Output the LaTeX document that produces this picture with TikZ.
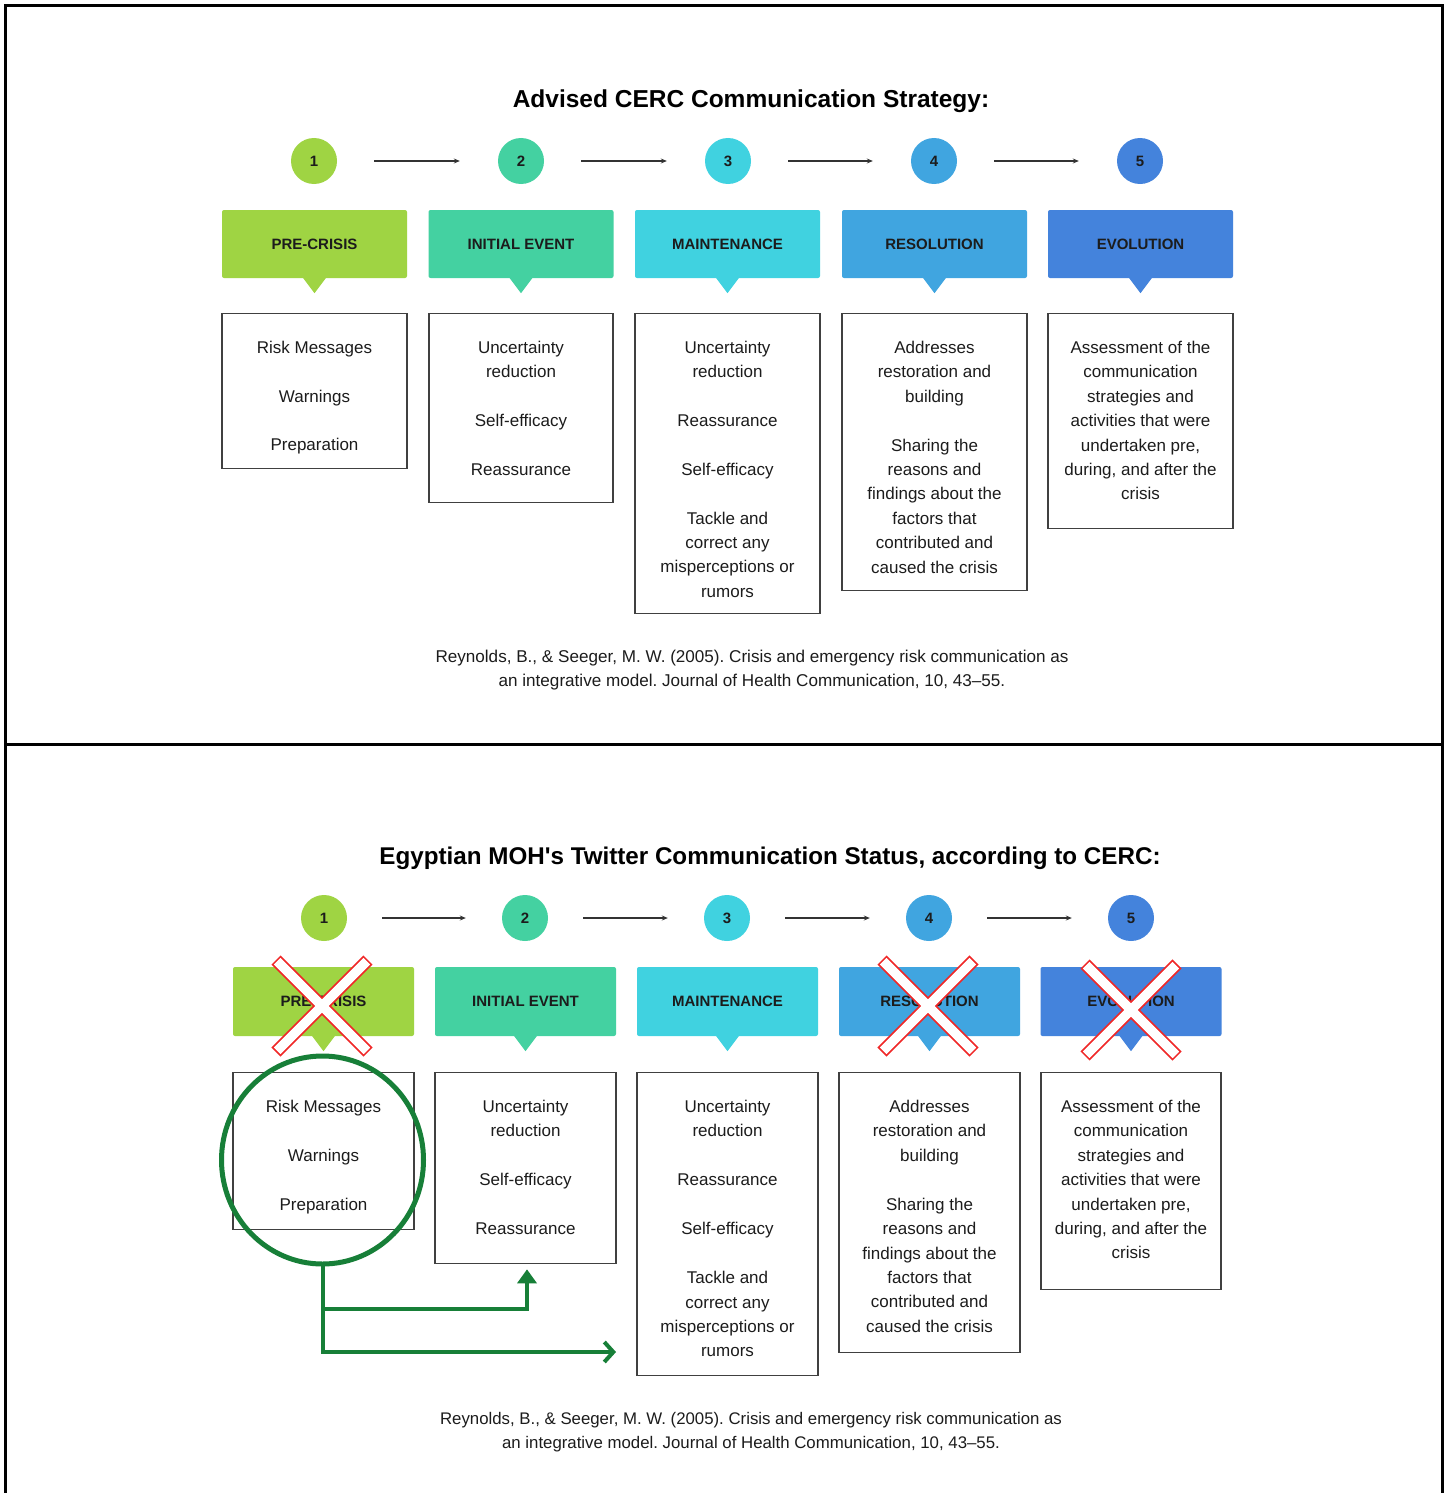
\documentclass[tikz,border=0pt]{standalone}
\usepackage{fontspec}
\setmainfont{Liberation Sans}
\usetikzlibrary{arrows.meta,calc,shapes.geometric}
\definecolor{c1}{HTML}{9FD443}
\definecolor{c2}{HTML}{44D1A1}
\definecolor{c3}{HTML}{40D2E0}
\definecolor{c4}{HTML}{40A5E0}
\definecolor{c5}{HTML}{4483DC}
\definecolor{gdark}{HTML}{177F38}
\definecolor{xred}{HTML}{F02828}
\definecolor{ink}{HTML}{1C1C1C}
\frenchspacing
\begin{document}
\begin{tikzpicture}[x=1pt,y=-1pt,
  num/.style={circle, minimum size=46, inner sep=0, font=\bfseries\fontsize{15}{17}\selectfont, text=ink},
  hdr/.style={rectangle, rounded corners=2, minimum height=68, inner sep=0, font=\bfseries\fontsize{15}{18}\selectfont, text=ink},
  cbox/.style={draw=black!75, line width=1.3, inner sep=0},
  ctext/.style={align=center, inner sep=0, anchor=north, text=ink, font=\fontsize{17}{24.4}\selectfont},
  ttl/.style={font=\bfseries\fontsize{24.5}{28}\selectfont, text=black},
  cite/.style={align=center, inner sep=0, text=ink, font=\fontsize{17.1}{24.2}\selectfont},
  flow/.style={line width=1.2, draw=black!80, -{Stealth[length=6,width=5]}},
  garrow/.style={line width=4, draw=gdark},
]
\useasboundingbox (0,0) rectangle (1447,1493);
\fill[white] (0,0) rectangle (1447,1493);
% frame
\draw[line width=3] (5,1493) -- (5,6) -- (1442,6) -- (1442,1493);
\draw[line width=3] (5,744) -- (1442,744);

% ================= TOP =================
\node[ttl] (t1) at (751,101) {Advised CERC Communication Strategy:};
\foreach \i/\cx/\hx/\col/\lab in {1/314/314.5/c1/PRE-CRISIS, 2/521/521/c2/INITIAL EVENT, 3/728/727.5/c3/MAINTENANCE, 4/934/934.5/c4/RESOLUTION, 5/1140/1140.5/c5/EVOLUTION}{
  \node[num, fill=\col] (tn\i) at (\cx,161) {\i};
  \node[hdr, fill=\col, minimum width=185] (th\i) at (\hx,244) {\lab};
  \fill[\col] ($(th\i.south)+(-12,-1)$) -- ($(th\i.south)+(0,15)$) -- ($(th\i.south)+(12,-1)$) -- cycle;
}
\foreach \a/\b in {1/2,2/3,3/4,4/5}
  \draw[flow, shorten <=37, shorten >=38] (tn\a) -- (tn\b);

\node[cbox, minimum width=185, minimum height=155, anchor=north] (tb1) at (314.5,313) {};
\node[cbox, minimum width=184, minimum height=189, anchor=north] (tb2) at (521,313) {};
\node[cbox, minimum width=185, minimum height=300, anchor=north] (tb3) at (727.5,313) {};
\node[cbox, minimum width=185, minimum height=277, anchor=north] (tb4) at (934.5,313) {};
\node[cbox, minimum width=185, minimum height=215, anchor=north] (tb5) at (1140.5,313) {};

\node[ctext] (tt1) at ($(tb1.north)+(0,28)$) {Risk Messages\\[24.3pt]Warnings\\[24.3pt]Preparation};
\node[ctext] (tt2) at ($(tb2.north)+(0,28)$) {Uncertainty\\reduction\\[24.3pt]Self-efficacy\\[24.3pt]Reassurance};
\node[ctext] (tt3) at ($(tb3.north)+(0,28)$) {Uncertainty\\reduction\\[24.3pt]Reassurance\\[24.3pt]Self-efficacy\\[24.3pt]Tackle and\\correct any\\misperceptions or\\rumors};
\node[ctext] (tt4) at ($(tb4.north)+(0,28)$) {Addresses\\restoration and\\building\\[24.3pt]Sharing the\\reasons and\\findings about the\\factors that\\contributed and\\caused the crisis};
\node[ctext] (tt5) at ($(tb5.north)+(0,28)$) {Assessment of the\\communication\\strategies and\\activities that were\\undertaken pre,\\during, and after the\\crisis};

\node[cite] (ct1) at (752,670) {Reynolds, B., \& Seeger, M. W. (2005). Crisis and emergency risk communication as\\an integrative model. Journal of Health Communication, 10, 43–55.};

% ================= BOTTOM =================
\node[ttl, font=\bfseries\fontsize{24.2}{28}\selectfont] (t2) at (770,858) {Egyptian MOH\textquotesingle s Twitter Communication Status, according to CERC:};
\foreach \i/\cx/\hx/\col/\lab in {1/324/323.5/c1/PRE-CRISIS, 2/525/525.5/c2/INITIAL EVENT, 3/727/727.5/c3/MAINTENANCE, 4/929/929.5/c4/RESOLUTION, 5/1131/1131/c5/EVOLUTION}{
  \node[num, fill=\col] (bn\i) at (\cx,918) {\i};
  \node[hdr, fill=\col, minimum width=181, minimum height=69] (bh\i) at (\hx,1001.5) {\lab};
  \fill[\col] ($(bh\i.south)+(-12,-1)$) -- ($(bh\i.south)+(0,15)$) -- ($(bh\i.south)+(12,-1)$) -- cycle;
}
\foreach \a/\b in {1/2,2/3,3/4,4/5}
  \draw[flow, shorten <=35, shorten >=36] (bn\a) -- (bn\b);

\node[cbox, minimum width=181, minimum height=157, anchor=north] (bb1) at (323.5,1072) {};
\node[cbox, minimum width=181, minimum height=191, anchor=north] (bb2) at (525.5,1072) {};
\node[cbox, minimum width=181, minimum height=303, anchor=north] (bb3) at (727.5,1072) {};
\node[cbox, minimum width=181, minimum height=280, anchor=north] (bb4) at (929.5,1072) {};
\node[cbox, minimum width=180, minimum height=217, anchor=north] (bb5) at (1131,1072) {};

\node[ctext] (bt1) at ($(bb1.north)+(0,28)$) {Risk Messages\\[24.5pt]Warnings\\[24.5pt]Preparation};
\node[ctext] (bt2) at ($(bb2.north)+(0,28)$) {Uncertainty\\reduction\\[24.5pt]Self-efficacy\\[24.5pt]Reassurance};
\node[ctext] (bt3) at ($(bb3.north)+(0,28)$) {Uncertainty\\reduction\\[24.5pt]Reassurance\\[24.5pt]Self-efficacy\\[24.5pt]Tackle and\\correct any\\misperceptions or\\rumors};
\node[ctext] (bt4) at ($(bb4.north)+(0,28)$) {Addresses\\restoration and\\building\\[24.5pt]Sharing the\\reasons and\\findings about the\\factors that\\contributed and\\caused the crisis};
\node[ctext] (bt5) at ($(bb5.north)+(0,28)$) {Assessment of the\\communication\\strategies and\\activities that were\\undertaken pre,\\during, and after the\\crisis};

\node[cite, font=\fontsize{16.8}{24.2}\selectfont] (ct2) at (751,1432) {Reynolds, B., \& Seeger, M. W. (2005). Crisis and emergency risk communication as\\an integrative model. Journal of Health Communication, 10, 43–55.};

% red crosses
\foreach \cx/\cy in {322/1006, 928/1006, 1131/1010}{
  \draw[xred, line width=13] (\cx-46,\cy-46) -- (\cx+46,\cy+46);
  \draw[xred, line width=13] (\cx+46,\cy-46) -- (\cx-46,\cy+46);
  \draw[white, line width=9.5, shorten <=1.6, shorten >=1.6] (\cx-46,\cy-46) -- (\cx+46,\cy+46);
  \draw[white, line width=9.5, shorten <=1.6, shorten >=1.6] (\cx+46,\cy-46) -- (\cx-46,\cy+46);
}

% green circle and arrows
\node[ellipse, draw=gdark, line width=5, minimum width=202, minimum height=208, inner sep=0] (gc) at (322.5,1160) {};
\coordinate (g1) at ($(bb2.south)+(1.5,5)$);
\coordinate (g2) at (616,1352);
\draw[garrow, -{Triangle[length=14,width=19]}] (gc.south) |- ($(g1)+(0,40)$) -- (g1);
\draw[garrow, line cap=round, -{Straight Barb[length=9,width=20]}] (gc.south) |- (g2);
\end{tikzpicture}
\end{document}
